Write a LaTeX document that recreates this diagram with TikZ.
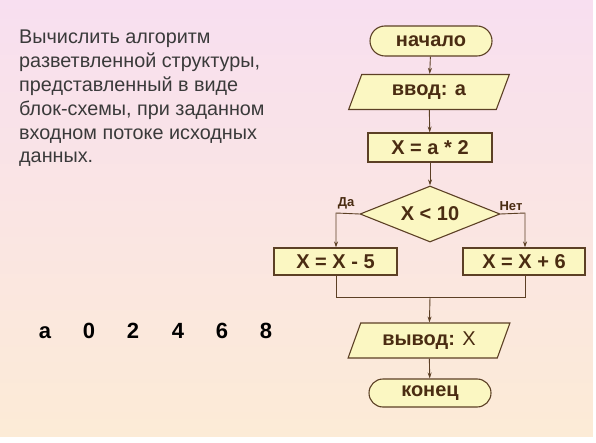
\documentclass[tikz,border=0pt]{standalone}
\usepackage{fontspec}
\setmainfont{Liberation Sans}
\usetikzlibrary{shapes.geometric,shapes.misc,arrows.meta}
\definecolor{bgtop}{HTML}{F8DFF0}
\definecolor{bgbot}{HTML}{FCEBD6}
\definecolor{boxfill}{HTML}{FBF7C2}
\definecolor{boxline}{HTML}{5C4025}
\definecolor{boxtext}{HTML}{4A2C12}
\definecolor{paratext}{HTML}{3A3A3A}
\tikzset{
  blk/.style={draw=boxline, line width=1.1pt, fill=boxfill, text=boxtext,
    font=\bfseries\fontsize{20}{22}\selectfont, inner sep=0pt},
  term/.style={blk, rounded rectangle, minimum width=122pt, minimum height=30pt},
  proc/.style={blk, rectangle, minimum height=28pt},
  io/.style={blk, trapezium, trapezium left angle=64, trapezium right angle=116,
    trapezium stretches=true, minimum width=162pt, minimum height=35pt},
  cond/.style={blk, diamond, shape aspect=2.5, minimum width=140pt, minimum height=56pt},
  conn/.style={draw=boxline, line width=0.9pt},
  arr/.style={conn, -{Stealth[length=6pt,width=4pt]}},
  lbl/.style={text=boxtext, font=\bfseries\fontsize{13}{15}\selectfont, inner sep=0pt},
  num/.style={font=\bfseries\fontsize{22}{24}\selectfont, inner sep=0pt, anchor=base}
}
\begin{document}
\begin{tikzpicture}[x=1pt,y=-1pt]
\useasboundingbox (0,0) rectangle (596,443);
\shade[top color=bgtop, bottom color=bgbot] (0,0) rectangle (593,437);
\fill[white] (0,437) rectangle (596,443);
\fill[white] (593,0) rectangle (596,443);

\node[anchor=north west, inner sep=0pt, align=left, text=paratext,
  font=\fontsize{19.8}{23.8}\selectfont] (para) at (19,30)
  {Вычислить алгоритм\\разветвленной структуры,\\представленный в виде\\блок-схемы, при заданном\\входном потоке исходных\\данных.};

\node[num] (na) at (45,338) {a};
\node[num] (n0) at (89,338) {0};
\node[num] (n2) at (133,338) {2};
\node[num] (n4) at (178,338) {4};
\node[num] (n6) at (222,338) {6};
\node[num] (n8) at (266,338) {8};

\node[term] (start) at (431,41) {начало};
\node[io] (in) at (429,92) {ввод: а};
\node[proc, minimum width=124pt, minimum height=29pt] (calc) at (430,147.5) {X = a * 2};
\node[cond] (if) at (430,214) {X < 10};
\node[proc, minimum width=123pt, minimum height=27pt] (left) at (335.5,261.5) {X = X - 5};
\node[proc, minimum width=122pt, minimum height=27pt] (right) at (524,261.5) {X = X + 6};
\node[io] (out) at (429,340.5) {вывод: {\mdseries Х}};
\node[term, minimum height=28pt] (end) at (430,393) {конец};

\coordinate (lc) at (336,213);
\coordinate (rc) at (525,213);
\coordinate (jl) at (336,297);
\coordinate (jr) at (525,297);
\coordinate (jm) at (430,297);

\draw[arr] (start) -- (in);
\draw[arr] (in) -- (calc);
\draw[arr] (calc) -- (if);
\draw[arr] (if.west) -- (lc) -- (left.north -| lc);
\draw[arr] (if.east) -- (rc) -- (right.north -| rc);
\draw[conn] (left.south -| jl) -- (jl) -- (jr) -- (right.south -| jr);
\draw[arr] (jm) -- (out);
\draw[arr] (out) -- (end);

\node[lbl] (yes) at (346,203) {Да};
\node[lbl] (no) at (511,206) {Нет};
\end{tikzpicture}
\end{document}
